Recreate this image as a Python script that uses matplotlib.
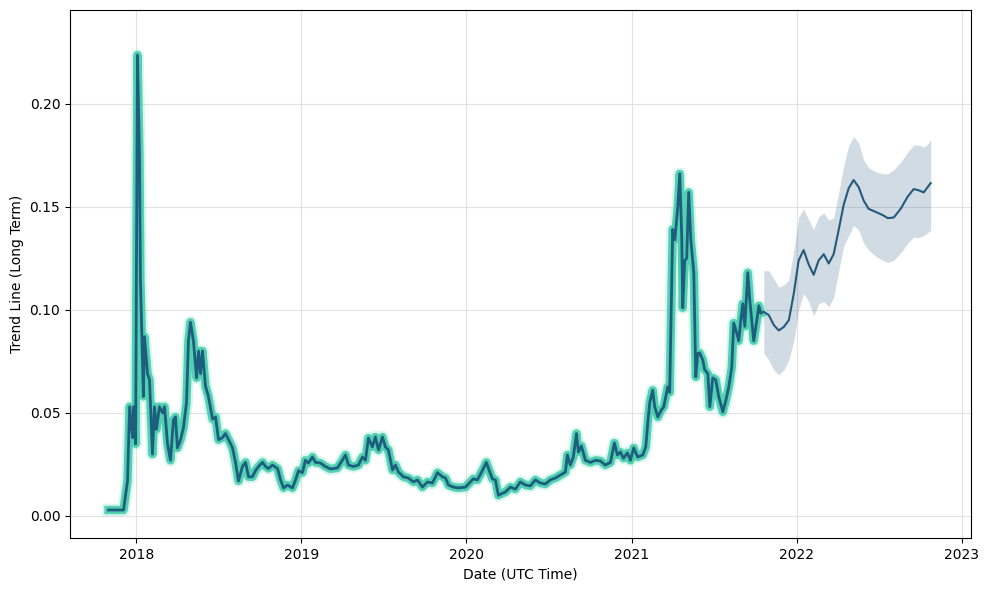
import matplotlib
matplotlib.use("Agg")
import matplotlib.pyplot as plt
import matplotlib.dates as mdates
import pandas as pd
from matplotlib.ticker import FormatStrFormatter

# historico (ano decimal, valor)
hist_anos = [
    2017.830, 2017.921, 2017.945, 2017.958, 2017.976, 2017.982, 2017.994, 2018.006,
    2018.018, 2018.024, 2018.042, 2018.048, 2018.067, 2018.079, 2018.097, 2018.109,
    2018.121, 2018.139, 2018.158, 2018.170, 2018.188, 2018.206, 2018.224, 2018.236,
    2018.248, 2018.267, 2018.285, 2018.303, 2018.315, 2018.327, 2018.345, 2018.364,
    2018.376, 2018.388, 2018.400, 2018.418, 2018.436, 2018.461, 2018.479, 2018.497,
    2018.521, 2018.539, 2018.558, 2018.582, 2018.600, 2018.618, 2018.642, 2018.661,
    2018.679, 2018.703, 2018.721, 2018.739, 2018.764, 2018.782, 2018.800, 2018.824,
    2018.855, 2018.873, 2018.891, 2018.915, 2018.945, 2018.964, 2018.982, 2019.006,
    2019.024, 2019.042, 2019.067, 2019.085, 2019.115, 2019.145, 2019.176, 2019.218,
    2019.248, 2019.267, 2019.285, 2019.315, 2019.345, 2019.370, 2019.388, 2019.406,
    2019.430, 2019.448, 2019.467, 2019.491, 2019.509, 2019.527, 2019.552, 2019.570,
    2019.588, 2019.618, 2019.648, 2019.679, 2019.703, 2019.733, 2019.764, 2019.794,
    2019.824, 2019.855, 2019.873, 2019.891, 2019.921, 2019.952, 2019.994, 2020.024,
    2020.042, 2020.067, 2020.097, 2020.121, 2020.139, 2020.158, 2020.176, 2020.194,
    2020.218, 2020.236, 2020.267, 2020.297, 2020.327, 2020.358, 2020.388, 2020.418,
    2020.448, 2020.479, 2020.509, 2020.539, 2020.570, 2020.600, 2020.612, 2020.630,
    2020.648, 2020.667, 2020.679, 2020.697, 2020.721, 2020.752, 2020.782, 2020.812,
    2020.842, 2020.873, 2020.897, 2020.915, 2020.933, 2020.952, 2020.976, 2020.994,
    2021.012, 2021.036, 2021.067, 2021.085, 2021.097, 2021.109, 2021.127, 2021.139,
    2021.158, 2021.176, 2021.194, 2021.218, 2021.230, 2021.248, 2021.261, 2021.279,
    2021.291, 2021.303, 2021.309, 2021.321, 2021.333, 2021.345, 2021.358, 2021.376,
    2021.388, 2021.400, 2021.412, 2021.430, 2021.442, 2021.461, 2021.473, 2021.491,
    2021.509, 2021.527, 2021.552, 2021.570, 2021.588, 2021.606, 2021.618, 2021.636,
    2021.648, 2021.661, 2021.673, 2021.685, 2021.703, 2021.715, 2021.727, 2021.739,
    2021.758, 2021.770, 2021.782,
]
hist_valores = [
    0.0029, 0.0029, 0.017, 0.053, 0.038, 0.053, 0.035, 0.2236,
    0.176, 0.1145, 0.058, 0.087, 0.069, 0.066, 0.030, 0.053,
    0.042, 0.053, 0.050, 0.053, 0.035, 0.027, 0.0466, 0.048,
    0.033, 0.037, 0.043, 0.055, 0.085, 0.094, 0.085, 0.067,
    0.080, 0.069, 0.080, 0.063, 0.058, 0.047, 0.048, 0.037,
    0.038, 0.040, 0.037, 0.033, 0.026, 0.017, 0.024, 0.026,
    0.019, 0.019, 0.022, 0.024, 0.026, 0.024, 0.023, 0.0247,
    0.023, 0.0175, 0.0136, 0.015, 0.0136, 0.0175, 0.022, 0.021,
    0.027, 0.0257, 0.0286, 0.026, 0.0257, 0.024, 0.0228, 0.0233,
    0.027, 0.0296, 0.0247, 0.024, 0.0247, 0.0286, 0.027, 0.0378,
    0.0335, 0.0383, 0.032, 0.0383, 0.0335, 0.032, 0.0223, 0.0247,
    0.0213, 0.019, 0.0184, 0.0165, 0.0175, 0.014, 0.0165, 0.016,
    0.021, 0.019, 0.0184, 0.015, 0.014, 0.0136, 0.014, 0.0165,
    0.018, 0.0175, 0.022, 0.026, 0.022, 0.018, 0.0175, 0.010,
    0.011, 0.0116, 0.014, 0.013, 0.0165, 0.015, 0.0146, 0.0175,
    0.016, 0.0155, 0.0175, 0.0184, 0.0199, 0.0213, 0.0296, 0.0247,
    0.0286, 0.040, 0.031, 0.034, 0.027, 0.026, 0.027, 0.0267,
    0.0247, 0.026, 0.0354, 0.0296, 0.031, 0.028, 0.0306, 0.027,
    0.033, 0.0286, 0.0296, 0.0335, 0.045, 0.055, 0.061, 0.053,
    0.048, 0.051, 0.053, 0.0626, 0.060, 0.139, 0.134, 0.150,
    0.166, 0.135, 0.101, 0.124, 0.125, 0.157, 0.134, 0.118,
    0.0675, 0.079, 0.079, 0.0757, 0.071, 0.069, 0.053, 0.067,
    0.066, 0.058, 0.0505, 0.056, 0.0626, 0.072, 0.0936, 0.0888,
    0.085, 0.095, 0.103, 0.092, 0.118, 0.105, 0.095, 0.085,
    0.095, 0.102, 0.0985,
]

# previsao (ano decimal, valor, limite inferior, limite superior)
prev_anos = [
    2021.800, 2021.830, 2021.861, 2021.891, 2021.921, 2021.952, 2021.982, 2022.012,
    2022.042, 2022.073, 2022.103, 2022.133, 2022.164, 2022.194, 2022.224, 2022.255,
    2022.285, 2022.315, 2022.345, 2022.376, 2022.406, 2022.436, 2022.479, 2022.521,
    2022.552, 2022.588, 2022.630, 2022.673, 2022.709, 2022.739, 2022.770, 2022.788,
    2022.812,
]
prev_valores = [
    0.099, 0.0975, 0.0926, 0.090, 0.0917, 0.095, 0.108, 0.124,
    0.129, 0.122, 0.117, 0.124, 0.127, 0.1225, 0.127, 0.139,
    0.151, 0.159, 0.163, 0.1595, 0.153, 0.149, 0.1475, 0.146,
    0.1445, 0.1448, 0.149, 0.155, 0.1586, 0.158, 0.157, 0.159,
    0.1615,
]
prev_inferior = [
    0.079, 0.0757, 0.0708, 0.0684, 0.0708, 0.0757, 0.085, 0.100,
    0.108, 0.104, 0.097, 0.103, 0.104, 0.1015, 0.106, 0.119,
    0.131, 0.136, 0.141, 0.1387, 0.1324, 0.129, 0.126, 0.124,
    0.123, 0.124, 0.1276, 0.1324, 0.1353, 0.135, 0.136, 0.137,
    0.1387,
]
prev_superior = [
    0.119, 0.119, 0.115, 0.111, 0.112, 0.1145, 0.129, 0.145,
    0.149, 0.1436, 0.139, 0.145, 0.147, 0.1436, 0.1445, 0.157,
    0.170, 0.1795, 0.184, 0.181, 0.1727, 0.169, 0.167, 0.166,
    0.166, 0.168, 0.1717, 0.1765, 0.180, 0.180, 0.179, 0.180,
    0.1824,
]


def paraData(anos):
    # converte ano decimal em datas
    return [pd.Timestamp(int(a), 1, 1) + pd.Timedelta(days=(a - int(a)) * 365.25) for a in anos]


datasHist = paraData(hist_anos)
datasPrev = paraData(prev_anos)

fig = plt.figure(figsize=(9.88, 5.9), dpi=100)
ax = fig.add_axes([0.0709, 0.0881, 0.912, 0.895])

ax.grid(True, color='#e2e2e2', linewidth=0.8)
ax.set_axisbelow(True)

# banda de confianca da previsao
ax.fill_between(datasPrev, prev_inferior, prev_superior, color='#2b5f80', alpha=0.22, linewidth=0)

# historico: halo claro, linha grossa turquesa e linha escura por cima
ax.plot(datasHist, hist_valores, color='#8ee6d4', linewidth=9, alpha=0.35, solid_joinstyle='round')
ax.plot(datasHist, hist_valores, color='#45cbaa', linewidth=6, alpha=0.9, solid_joinstyle='round')
ax.plot(datasHist, hist_valores, color='#1b5e7e', linewidth=2)

# previsao
ax.plot([datasHist[-1]] + datasPrev, [hist_valores[-1]] + prev_valores, color='#255a7b', linewidth=1.5)

ax.set_xlim(pd.Timestamp('2017-08-07'), pd.Timestamp('2023-01-22'))
ax.set_ylim(-0.0107, 0.2455)
ax.xaxis.set_major_locator(mdates.YearLocator())
ax.xaxis.set_major_formatter(mdates.DateFormatter('%Y'))
ax.yaxis.set_major_formatter(FormatStrFormatter('%.2f'))

ax.set_xlabel('Date (UTC Time)')
ax.set_ylabel('Trend Line (Long Term)')

fig.savefig('out.png', dpi=100)
